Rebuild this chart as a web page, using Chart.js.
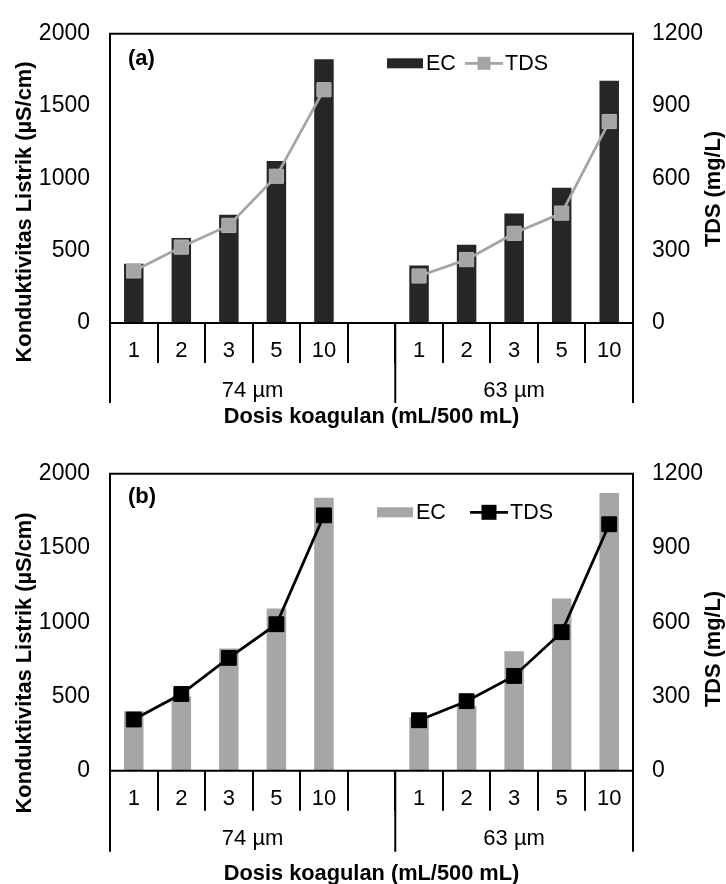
<!DOCTYPE html>
<html>
<head>
<meta charset="utf-8">
<script src="https://cdn.jsdelivr.net/npm/chart.js@4/dist/chart.umd.min.js"></script>
<style>
  html, body { margin: 0; padding: 0; background: #fff; }
  #wrap { position: relative; width: 726px; height: 884px; }
  canvas { position: absolute; left: 0; }
</style>
</head>
<body>
<div id="wrap">
  <canvas id="chartA" width="726" height="440" style="top:0"></canvas>
  <canvas id="chartB" width="726" height="444" style="top:440px"></canvas>
</div>
<script>
// Coagulant doses (mL/500 mL) and particle-size groups
const doses = ['1', '2', '3', '5', '10'];
const groups = ['74 µm', '63 µm'];

// Panel (a): EC (µS/cm) and TDS (mg/L)
const ecA74 = [410, 587, 749, 1120, 1824];
const ecA63 = [398, 542, 758, 935, 1675];
const tdsA74 = [216, 315, 405, 609, 968];
const tdsA63 = [195, 263, 372, 456, 836];

// Panel (b): EC (µS/cm) and TDS (mg/L)
const ecB74 = [400, 500, 823, 1093, 1838];
const ecB63 = [360, 435, 805, 1160, 1871];
const tdsB74 = [207, 310, 456, 592, 1032];
const tdsB63 = [204, 281, 383, 560, 996];

// Axis ranges
const ecRange = { min: 0, max: 2000, step: 500 };
const tdsRange = { min: 0, max: 1200, step: 300 };

const FONT = "'Liberation Sans', Arial, sans-serif";

// one empty slot separates the two size groups
const categories = [...doses, '', ...doses];
const joinGroups = (a, b) => [...a, null, ...b];
const plainNumber = v => String(v);

// Frame, multi-level category axis, titles and in-plot legend
const framePlugin = {
  id: 'frame',
  afterDraw(chart, args, o) {
    const ctx = chart.ctx;
    const ca = chart.chartArea;
    const xs = chart.scales.x;
    const L = ca.left, R = ca.right, T = ca.top, B = ca.bottom;
    const split = (xs.getPixelForValue(doses.length) + xs.getPixelForValue(doses.length + 1)) / 2;

    ctx.save();
    ctx.strokeStyle = '#000';
    ctx.lineWidth = 2;
    ctx.lineCap = 'square';
    ctx.beginPath();
    ctx.moveTo(L, B + o.groupDepth); ctx.lineTo(L, T); ctx.lineTo(R, T); ctx.lineTo(R, B + o.groupDepth);
    ctx.moveTo(L, B); ctx.lineTo(R, B);
    ctx.moveTo(split, B); ctx.lineTo(split, B + o.groupDepth);
    ctx.stroke();

    ctx.fillStyle = '#000';
    ctx.textBaseline = 'middle';
    ctx.textAlign = 'center';
    ctx.font = `22px ${FONT}`;
    ctx.fillText(groups[0], (L + split) / 2, B + o.groupY);
    ctx.fillText(groups[1], (split + R) / 2, B + o.groupY);

    ctx.font = `bold 21.8px ${FONT}`;
    ctx.fillText(o.xTitle, (L + R) / 2, B + o.xTitleY);

    // vertical axis titles
    ctx.save();
    ctx.translate(o.yTitleX, o.yTitleY);
    ctx.rotate(-Math.PI / 2);
    ctx.fillText(o.yTitle, 0, 0);
    ctx.restore();
    ctx.save();
    ctx.translate(o.y1TitleX, o.y1TitleY);
    ctx.rotate(-Math.PI / 2);
    ctx.fillText(o.y1Title, 0, 0);
    ctx.restore();

    // panel tag
    ctx.textAlign = 'left';
    ctx.font = `bold 22px ${FONT}`;
    ctx.fillText(o.tag, L + o.tagDx, T + o.tagDy);

    // legend
    const lg = o.legend;
    const bar = chart.data.datasets.find(d => d.type === 'bar');
    const line = chart.data.datasets.find(d => d.type === 'line');
    const cy = T + lg.dy;
    ctx.font = `21.5px ${FONT}`;
    ctx.fillStyle = bar.backgroundColor;
    ctx.fillRect(lg.boxX, cy - 5, lg.boxW, 10);
    ctx.fillStyle = '#000';
    ctx.fillText(bar.label, lg.boxX + lg.boxW + 3, cy + 1);

    ctx.strokeStyle = line.borderColor;
    ctx.lineWidth = line.borderWidth;
    ctx.lineCap = 'butt';
    ctx.beginPath();
    ctx.moveTo(lg.lineX, cy); ctx.lineTo(lg.lineX + lg.lineW, cy);
    ctx.stroke();
    const m = lg.marker;
    ctx.fillStyle = line.pointBackgroundColor;
    ctx.fillRect(lg.lineX + lg.lineW / 2 - m / 2, cy - m / 2, m, m);
    ctx.fillStyle = '#000';
    ctx.fillText(line.label, lg.lineX + lg.lineW + 2, cy + 1);
    ctx.restore();
  }
};

function makePanel(id, cfg) {
  const xFont = { family: FONT, size: 22 };
  const yFont = { family: FONT, size: 23 };
  return new Chart(document.getElementById(id), {
    type: 'bar',
    data: {
      labels: categories,
      datasets: [
        {
          type: 'line',
          label: 'TDS',
          data: cfg.tds,
          yAxisID: 'y1',
          order: 1,
          borderColor: cfg.lineColor,
          borderWidth: 2.75,
          pointStyle: 'rect',
          pointRadius: cfg.pointRadius,
          pointBackgroundColor: cfg.lineColor,
          pointBorderColor: cfg.pointBorder,
          pointBorderWidth: 1,
          tension: 0,
          spanGaps: false
        },
        {
          type: 'bar',
          label: 'EC',
          data: cfg.ec,
          yAxisID: 'y',
          order: 2,
          backgroundColor: cfg.barColor,
          borderWidth: 0,
          barPercentage: 0.41,
          categoryPercentage: 1
        }
      ]
    },
    options: {
      responsive: false,
      animation: false,
      devicePixelRatio: 1,
      layout: { padding: { top: cfg.top, left: 0, right: 0, bottom: 0 } },
      plugins: {
        legend: { display: false },
        tooltip: { enabled: false },
        frame: cfg.frame
      },
      scales: {
        x: {
          type: 'category',
          offset: true,
          grid: {
            display: true, offset: true, drawOnChartArea: false, drawTicks: true,
            tickLength: 40, lineWidth: 2, color: '#000'
          },
          border: { display: false },
          ticks: { font: xFont, color: '#000', padding: -25, autoSkip: false, maxRotation: 0 },
          afterFit(s) { s.height = cfg.xHeight; }
        },
        y: {
          position: 'left',
          min: ecRange.min, max: ecRange.max,
          grid: { display: false, drawTicks: false },
          border: { display: false },
          ticks: { stepSize: ecRange.step, font: yFont, color: '#000', padding: 20, callback: plainNumber },
          afterFit(s) { s.width = 110; }
        },
        y1: {
          position: 'right',
          min: tdsRange.min, max: tdsRange.max,
          grid: { display: false, drawTicks: false },
          border: { display: false },
          ticks: { stepSize: tdsRange.step, font: yFont, color: '#000', padding: 19, callback: plainNumber },
          afterFit(s) { s.width = 93; }
        }
      }
    },
    plugins: [framePlugin]
  });
}

const xTitle = 'Dosis koagulan (mL/500 mL)';
const yTitle = 'Konduktivitas Listrik (µS/cm)';
const y1Title = 'TDS (mg/L)';

makePanel('chartA', {
  ec: joinGroups(ecA74, ecA63),
  tds: joinGroups(tdsA74, tdsA63),
  barColor: '#262626',
  lineColor: '#a5a5a5',
  pointBorder: '#b4b4b4',
  pointRadius: 10,
  top: 22.7,
  xHeight: 117,
  frame: {
    groupDepth: 79, groupY: 68, xTitleY: 94,
    xTitle, yTitle, y1Title,
    yTitleX: 25, yTitleY: 212, y1TitleX: 714, y1TitleY: 189,
    tag: '(a)', tagDx: 18, tagDy: 25,
    legend: { dy: 29.5, boxX: 387, boxW: 36, lineX: 465, lineW: 38, marker: 13 }
  }
});

makePanel('chartB', {
  ec: joinGroups(ecB74, ecB63),
  tds: joinGroups(tdsB74, tdsB63),
  barColor: '#a6a6a6',
  lineColor: '#000000',
  pointBorder: '#000000',
  pointRadius: 10.5,
  top: 30.7,
  xHeight: 113.3,
  frame: {
    groupDepth: 80, groupY: 68, xTitleY: 103,
    xTitle, yTitle, y1Title,
    yTitleX: 25, yTitleY: 223, y1TitleX: 714, y1TitleY: 209,
    tag: '(b)', tagDx: 18, tagDy: 23.5,
    legend: { dy: 38.5, boxX: 377, boxW: 36, lineX: 470, lineW: 38, marker: 15 }
  }
});
</script>
</body>
</html>
